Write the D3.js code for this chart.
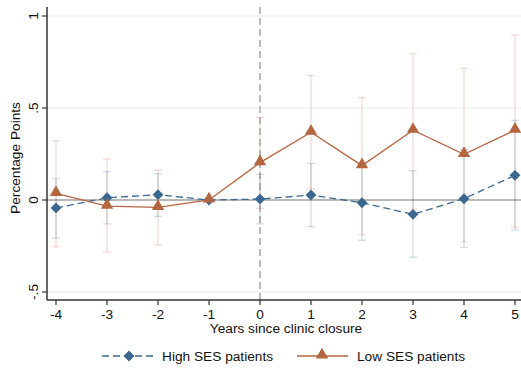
<!DOCTYPE html>
<html>
<head>
<meta charset="utf-8">
<script src="https://cdn.jsdelivr.net/npm/d3@7"></script>
<style>
  html, body { margin: 0; padding: 0; background: #fff; }
  svg { display: block; font-family: "Liberation Sans", Arial, sans-serif; }
</style>
</head>
<body>
<svg id="chart" width="521" height="370"></svg>
<script>
// Event-time years relative to the clinic closure
const years = [-4, -3, -2, -1, 0, 1, 2, 3, 4, 5];

// High SES patients: point estimates and 95% CI
const highEst   = [-0.043, 0.012, 0.029, 0, 0.005, 0.027, -0.015, -0.078, 0.007, 0.134];
const highLower = [-0.207, -0.130, -0.089, null, -0.130, -0.145, -0.219, -0.311, -0.257, -0.163];
const highUpper = [0.116, 0.154, 0.143, null, 0.139, 0.199, 0.190, 0.159, 0.275, 0.433];

// Low SES patients: point estimates and 95% CI
const lowEst   = [0.036, -0.033, -0.040, 0, 0.203, 0.368, 0.187, 0.379, 0.248, 0.380];
const lowLower = [-0.254, -0.284, -0.245, null, -0.045, 0.060, -0.190, -0.050, -0.228, -0.148];
const lowUpper = [0.322, 0.223, 0.163, null, 0.449, 0.676, 0.556, 0.795, 0.716, 0.897];

const yTicks = [-0.5, 0, 0.5, 1];
const yTickLabels = ["-.5", "0", ".5", "1"];
const xTickLabels = ["-4", "-3", "-2", "-1", "0", "1", "2", "3", "4", "5"];
const xLabel = "Years since clinic closure";
const yLabel = "Percentage Points";
const legendLabels = ["High SES patients", "Low SES patients"];

const blue = "#3b6890";
const brown = "#b5653f";
const fs = 13.7;

const svg = d3.select("#chart");
const x = d3.scaleLinear().domain([-4, 5]).range([56, 515]);
const y = d3.scaleLinear().domain([-0.5, 1]).range([292, 16]);
const plotLeft = 47, plotRight = 521, plotTop = 7, plotBottom = 300;

// horizontal grid lines
svg.append("g").selectAll("line").data(yTicks.filter(d => d !== 0)).join("line")
  .attr("x1", plotLeft).attr("x2", plotRight)
  .attr("y1", d => y(d)).attr("y2", d => y(d))
  .attr("stroke", "#eaeaea").attr("stroke-width", 1.2);

// reference line at zero
svg.append("line")
  .attr("x1", plotLeft).attr("x2", plotRight)
  .attr("y1", y(0)).attr("y2", y(0))
  .attr("stroke", "#a0a0a0").attr("stroke-width", 1.5);

// vertical dashed line at the year of closure
svg.append("line")
  .attr("x1", x(0)).attr("x2", x(0))
  .attr("y1", plotTop).attr("y2", plotBottom)
  .attr("stroke", "#a8a8a8").attr("stroke-width", 1.5)
  .attr("stroke-dasharray", "7,4");

// confidence intervals
function drawCI(lower, upper, color) {
  const g = svg.append("g").attr("stroke", color).attr("stroke-width", 1.2).attr("fill", "none");
  years.forEach((yr, i) => {
    if (lower[i] === null) return;
    const cx = x(yr);
    g.append("line").attr("x1", cx).attr("x2", cx).attr("y1", y(lower[i])).attr("y2", y(upper[i]));
    g.append("line").attr("x1", cx - 4).attr("x2", cx + 4).attr("y1", y(lower[i])).attr("y2", y(lower[i]));
    g.append("line").attr("x1", cx - 4).attr("x2", cx + 4).attr("y1", y(upper[i])).attr("y2", y(upper[i]));
  });
}
drawCI(lowLower, lowUpper, "rgba(200,120,90,0.28)");
drawCI(highLower, highUpper, "rgba(90,120,150,0.28)");

const line = d3.line().x((d, i) => x(years[i])).y(d => y(d));

// series lines
svg.append("path").datum(highEst).attr("d", line)
  .attr("fill", "none").attr("stroke", blue).attr("stroke-width", 1.3)
  .attr("stroke-dasharray", "7,4");
svg.append("path").datum(lowEst).attr("d", line)
  .attr("fill", "none").attr("stroke", brown).attr("stroke-width", 1.3);

// markers
const diamond = d3.symbol().type(d3.symbolDiamond2).size(75);
const triangle = d3.symbol().type(d3.symbolTriangle).size(66);
svg.append("g").selectAll("path").data(highEst).join("path")
  .attr("d", diamond)
  .attr("transform", (d, i) => `translate(${x(years[i])},${y(d)})`)
  .attr("fill", blue);
svg.append("g").selectAll("path").data(lowEst).join("path")
  .attr("d", triangle)
  .attr("transform", (d, i) => `translate(${x(years[i])},${y(d) - 1})`)
  .attr("fill", brown);

// y axis
const yAxis = svg.append("g").attr("transform", `translate(${plotLeft},0)`);
yAxis.append("line").attr("x1", 0).attr("x2", 0).attr("y1", plotTop).attr("y2", plotBottom)
  .attr("stroke", "#333").attr("stroke-width", 1.5);
yTicks.forEach((t, i) => {
  yAxis.append("line").attr("x1", -5).attr("x2", 0).attr("y1", y(t)).attr("y2", y(t))
    .attr("stroke", "#333").attr("stroke-width", 1.2);
  yAxis.append("text")
    .attr("transform", `translate(-9,${y(t)}) rotate(-90)`)
    .attr("text-anchor", "middle").attr("font-size", fs).attr("fill", "#111")
    .text(yTickLabels[i]);
});

// x axis
const xAxis = svg.append("g").attr("transform", `translate(0,${plotBottom})`);
xAxis.append("line").attr("x1", plotLeft).attr("x2", plotRight).attr("y1", 0).attr("y2", 0)
  .attr("stroke", "#333").attr("stroke-width", 1.5);
years.forEach((t, i) => {
  xAxis.append("line").attr("x1", x(t)).attr("x2", x(t)).attr("y1", 0).attr("y2", 5)
    .attr("stroke", "#333").attr("stroke-width", 1.2);
  xAxis.append("text").attr("x", x(t)).attr("y", 19)
    .attr("text-anchor", "middle").attr("font-size", fs).attr("fill", "#111")
    .text(xTickLabels[i]);
});

// axis titles
svg.append("text").attr("x", 286).attr("y", 333)
  .attr("text-anchor", "middle").attr("font-size", fs).attr("fill", "#111").text(xLabel);
svg.append("text").attr("transform", "translate(20,158) rotate(-90)")
  .attr("text-anchor", "middle").attr("font-size", fs).attr("fill", "#111").text(yLabel);

// legend
const ly = 356;
const leg = svg.append("g");
leg.append("line").attr("x1", 102).attr("x2", 154).attr("y1", ly).attr("y2", ly)
  .attr("stroke", blue).attr("stroke-width", 1.3).attr("stroke-dasharray", "7,4");
leg.append("path").attr("d", diamond).attr("transform", `translate(129,${ly})`).attr("fill", blue);
leg.append("text").attr("x", 162).attr("y", ly + 5).attr("font-size", fs).attr("fill", "#111").text(legendLabels[0]);
leg.append("line").attr("x1", 297).attr("x2", 348).attr("y1", ly).attr("y2", ly)
  .attr("stroke", brown).attr("stroke-width", 1.3);
leg.append("path").attr("d", triangle).attr("transform", `translate(322,${ly - 1})`).attr("fill", brown);
leg.append("text").attr("x", 357).attr("y", ly + 5).attr("font-size", fs).attr("fill", "#111").text(legendLabels[1]);
</script>
</body>
</html>
